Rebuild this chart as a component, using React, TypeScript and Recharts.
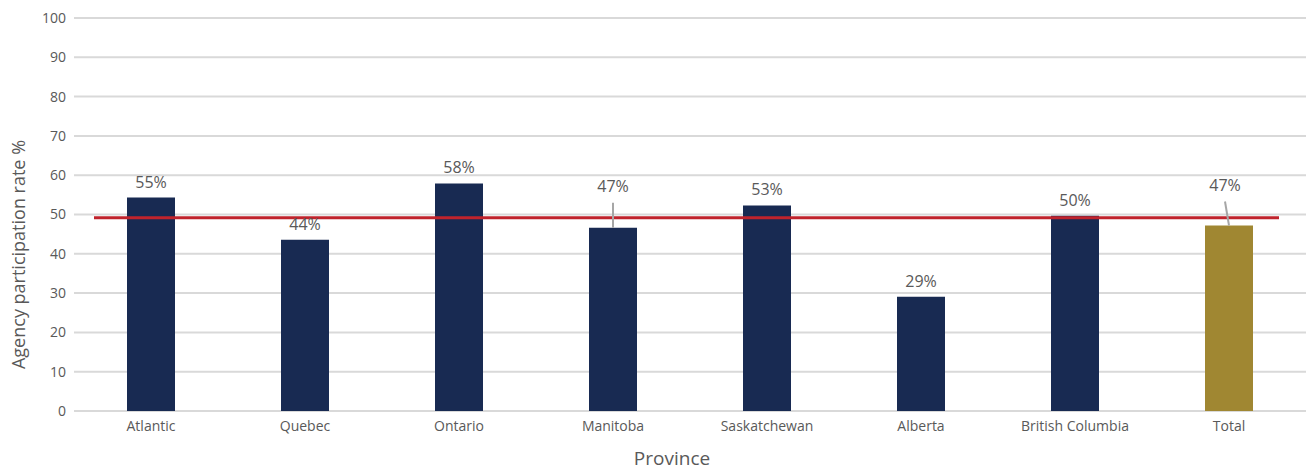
import React from 'react';
import { BarChart, Bar, XAxis, YAxis, CartesianGrid, ReferenceLine, LabelList, Cell } from 'recharts';

const provinces = ['Atlantic', 'Quebec', 'Ontario', 'Manitoba', 'Saskatchewan', 'Alberta', 'British Columbia', 'Total'];
const rates = [54.3, 43.6, 57.9, 46.6, 52.3, 29.1, 49.7, 47.2];
const rateLabels = ['55%', '44%', '58%', '47%', '53%', '29%', '50%', '47%'];
const yTicks = [0, 10, 20, 30, 40, 50, 60, 70, 80, 90, 100];
const averageRate = 49.2;

const data = provinces.map((name, i) => ({ name, rate: rates[i], label: rateLabels[i] }));

const FONT = "'Open Sans', sans-serif";
const NAVY = '#182a52';
const GOLD = '#a08732';

// labels that sit near the red line get pushed up with a leader line
const leaderOffsets: Record<number, { dx: number; lift: number }> = {
  3: { dx: 0, lift: 36 },
  7: { dx: -4, lift: 35 },
};

const renderLabel = (props: any) => {
  const { x, y, width, index, value } = props;
  const cx = x + width / 2;
  const lead = leaderOffsets[index];
  if (lead) {
    const ly = y - lead.lift;
    return (
      <g>
        <line x1={cx + lead.dx} y1={ly + 11} x2={cx} y2={y} stroke="#a6a6a6" strokeWidth={2} />
        <text x={cx + lead.dx} y={ly} textAnchor="middle" fill="#595959" fontSize={16} fontFamily={FONT}>
          {value}
        </text>
      </g>
    );
  }
  return (
    <text x={cx} y={y - 10} textAnchor="middle" fill="#595959" fontSize={16} fontFamily={FONT}>
      {value}
    </text>
  );
};

const AverageLine = (props: any) => {
  const { x1, x2, y1 } = props;
  return <line x1={x1 + 20} x2={x2 - 27} y1={y1} y2={y1} stroke="#c0232c" strokeWidth={3} />;
};

export default function App() {
  return (
    <div style={{ position: 'absolute', left: 0, top: 0, background: '#fff' }}>
      <BarChart width={1306} height={470} data={data} margin={{ top: 18, right: 0, left: 0, bottom: 0 }}>
        <CartesianGrid vertical={false} stroke="#d9d9d9" strokeWidth={2} />
        <XAxis
          dataKey="name"
          axisLine={false}
          tickLine={false}
          interval={0}
          height={59}
          tickMargin={4}
          tick={{ fontSize: 14, fill: '#595959', fontFamily: FONT }}
          label={{ value: 'Province', position: 'insideBottom', offset: 5, dx: -18, fontSize: 19, fill: '#595959', fontFamily: FONT }}
        />
        <YAxis
          domain={[0, 100]}
          ticks={yTicks}
          axisLine={false}
          tickLine={false}
          width={74}
          tick={{ fontSize: 14, fill: '#595959', fontFamily: FONT }}
          label={{ value: 'Agency participation rate %', angle: -90, position: 'insideLeft', dx: 14, dy: 40, fontSize: 18, fill: '#595959', fontFamily: FONT, style: { textAnchor: 'middle' } }}
        />
        <ReferenceLine y={averageRate} shape={AverageLine} />
        <Bar dataKey="rate" barSize={48} isAnimationActive={false}>
          {data.map((d, i) => (
            <Cell key={d.name} fill={i === data.length - 1 ? GOLD : NAVY} />
          ))}
          <LabelList dataKey="label" content={renderLabel} />
        </Bar>
      </BarChart>
    </div>
  );
}
